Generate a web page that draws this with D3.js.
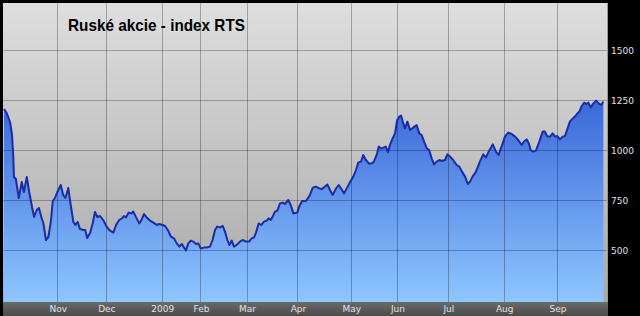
<!DOCTYPE html>
<html><head><meta charset="utf-8">
<script src="https://cdn.jsdelivr.net/npm/d3@7"></script>
<style>html,body{margin:0;padding:0;background:#000;overflow:hidden}svg{display:block}</style>
</head><body><svg id="c" width="640" height="316"></svg>
<script>
const title = "Ruské akcie - index RTS";
// x = trading-day number since start (early Oct 2008), value = RTS index
const days = [0,1.1,2.5,3.3,3.8,4.1,4.9,6.1,7.3,8.2,9.4,10.4,11.4,12.4,13.5,14.4,15.5,16.2,17.3,18.3,19.3,20.1,21.0,22.0,23.4,24.4,25.3,26.5,27.5,28.6,29.4,30.4,31.3,32.7,33.5,34.3,35.5,36.6,37.5,38.5,39.6,
40.9,42.3,43.7,45.1,46.2,47.5,48.6,49.5,50.3,51.4,52.5,53.3,54.3,55.8,56.8,57.7,58.8,60.2,61.6,63.0,64.0,65.4,66.4,67.7,68.8,70.1,71.2,72.3,73.3,74.2,75.0,76.0,77.0,78.0,79.2,80.1,81.1,82.5,83.8,
84.9,86.0,87.0,87.9,89.1,90.2,91.1,92.1,92.9,93.9,94.8,95.9,97.3,98.4,99.8,101.1,102.1,103.1,103.9,105.0,106.1,107.2,108.3,109.1,110.0,110.8,111.7,112.7,113.8,114.9,115.8,117.2,118.2,119.3,120.9,121.7,
122.9,124.5,126.0,127.3,128.6,130.0,131.1,132.3,133.3,134.4,135.5,136.9,138.0,139.1,140.2,141.3,142.6,144.0,145.1,146.1,147.2,148.1,149.2,150.4,151.6,152.5,153.7,154.5,155.4,156.4,157.4,158.3,159.1,160.2,161.2,162.1,163.0,163.7,
164.4,165.3,166.3,167.4,168.7,170.1,171.2,172.2,173.2,174.3,175.3,176.3,177.3,178.4,179.5,180.4,181.8,182.8,183.9,185.2,186.6,187.7,188.8,190.1,191.2,192.1,193.2,194.6,196.2,197.6,198.7,199.8,201.5,202.8,203.9,
205.6,206.5,207.9,209.3,210.7,212.0,213.4,214.4,215.5,216.4,217.1,218.2,219.3,220.7,222.1,223.0,224.0,225.1,226.2,227.2,228.1,229.2,230.3,231.3,232.2,233.3,234.5,235.4,236.4,237.2,238.2,239.2,240.0,240.9,241.9,243.0,244.1,245.2,246.2,247.1];
const values = [1205,1185,1140,1075,975,865,855,760,840,790,865,790,725,665,700,710,660,635,550,565,640,745,760,790,825,775,760,810,725,640,625,640,605,600,600,560,585,635,690,665,670,
650,617,597,587,625,650,658,670,663,687,683,692,667,633,653,680,663,647,637,625,630,625,620,597,567,558,533,517,530,513,497,533,547,542,530,533,508,512,513,
517,550,600,617,613,620,592,550,525,547,517,525,542,550,542,542,558,563,587,633,625,642,647,658,650,667,692,697,733,737,730,750,725,683,687,717,
745,745,772,812,817,808,805,817,828,800,775,808,825,805,783,808,838,867,900,938,942,975,950,933,933,942,978,1017,1008,1012,1017,988,1025,1058,1083,1150,1167,1172,
1142,1108,1142,1100,1112,1125,1083,1075,1042,1008,1000,958,928,942,950,945,950,978,967,950,925,917,892,867,830,842,867,892,942,978,962,992,1028,992,975,
1033,1067,1087,1080,1067,1050,1025,1042,1053,1033,1000,992,997,1042,1092,1092,1067,1067,1083,1067,1070,1053,1067,1070,1103,1142,1158,1167,1183,1192,1220,1237,1230,1237,1213,1233,1247,1233,1225,1242];
const monthLabels = ["Nov","Dec","2009","Feb","Mar","Apr","May","Jun","Jul","Aug","Sep"];
const monthDays = [22,42,65,81,100,121,143,162,183,206,228];
const yTicks = [500,750,1000,1250,1500];
const gridValues = [500,750,1000,1250,1500];

const data = days.map((d,i)=>({d, v: values[i]}));
const W = 640, H = 316;
const L = 3, R = 607, T = 3, B = 302;
const svg = d3.select("#c");
const x = d3.scaleLinear().domain([0, 248.6]).range([4, R]);
const y = d3.scaleLinear().domain([250, 1750]).range([300, 0]);

const defs = svg.append("defs");
const gg = defs.append("linearGradient").attr("id","bg").attr("x1",0).attr("y1",0).attr("x2",0).attr("y2",1);
gg.append("stop").attr("offset","0%").attr("stop-color","#dedede");
gg.append("stop").attr("offset","100%").attr("stop-color","#a9a9a9");
const bg = defs.append("linearGradient").attr("id","blue").attr("gradientUnits","userSpaceOnUse").attr("x1",0).attr("y1",100).attr("x2",0).attr("y2",B);
bg.append("stop").attr("offset","0%").attr("stop-color","#3a68d9");
bg.append("stop").attr("offset","100%").attr("stop-color","#8ec6ff");
const ab = defs.append("linearGradient").attr("id","axbar").attr("x1",0).attr("y1",0).attr("x2",0).attr("y2",1);
ab.append("stop").attr("offset","0%").attr("stop-color","#6a6a6a");
ab.append("stop").attr("offset","100%").attr("stop-color","#4a4a4a");
defs.append("clipPath").attr("id","clip").append("rect").attr("x",L).attr("y",T).attr("width",R-L).attr("height",B-T);

svg.append("rect").attr("width",W).attr("height",H).attr("fill","#000");
svg.append("rect").attr("x",L).attr("y",T).attr("width",R-L).attr("height",B-T).attr("fill","url(#bg)");

const g = svg.append("g").attr("clip-path","url(#clip)");
g.append("path").datum(data)
  .attr("fill","url(#blue)")
  .attr("d", d3.area().x(p=>x(p.d)).y0(B).y1(p=>y(p.v)));

// grid
g.selectAll("line.h").data(gridValues).join("line")
  .attr("x1",L).attr("x2",R)
  .attr("y1",v=>Math.round(y(v))+0.5).attr("y2",v=>Math.round(y(v))+0.5)
  .attr("stroke","#000").attr("stroke-opacity",0.28).attr("stroke-width",1);
g.selectAll("line.v").data(monthDays).join("line")
  .attr("x1",d=>Math.round(x(d))+0.5).attr("x2",d=>Math.round(x(d))+0.5)
  .attr("y1",T).attr("y2",B)
  .attr("stroke","#000").attr("stroke-opacity",0.28).attr("stroke-width",1);

g.append("path").datum(data)
  .attr("fill","none").attr("stroke","#1a2ca6").attr("stroke-width",2).attr("stroke-linejoin","round")
  .attr("d", d3.line().x(p=>x(p.d)).y(p=>y(p.v)));

// plot border highlight
svg.append("line").attr("x1",R+0.5).attr("x2",R+0.5).attr("y1",T).attr("y2",B).attr("stroke","#9a9a9a");

// bottom axis bar
svg.append("rect").attr("x",L).attr("y",B).attr("width",R-L+1).attr("height",H-B).attr("fill","url(#axbar)");
svg.selectAll("text.m").data(monthDays).join("text")
  .attr("x",d=>x(d)+1).attr("y",312)
  .attr("text-anchor","middle")
  .attr("font-family","DejaVu Sans").attr("font-size",9).attr("fill","#e2e2e2")
  .text((d,i)=>monthLabels[i]);

// right labels
svg.selectAll("text.y").data(yTicks).join("text")
  .attr("x",611).attr("y",v=>y(v)+3.5)
  .attr("font-family","DejaVu Sans").attr("font-size",9).attr("fill","#e0e0e0")
  .text(v=>v);

// title
svg.append("text").attr("x",68).attr("y",31)
  .attr("font-family","Liberation Sans, Arial").attr("font-weight","bold").attr("font-size",17)
  .attr("textLength",177).attr("lengthAdjust","spacingAndGlyphs")
  .attr("fill","#000").text(title);
</script></body></html>
